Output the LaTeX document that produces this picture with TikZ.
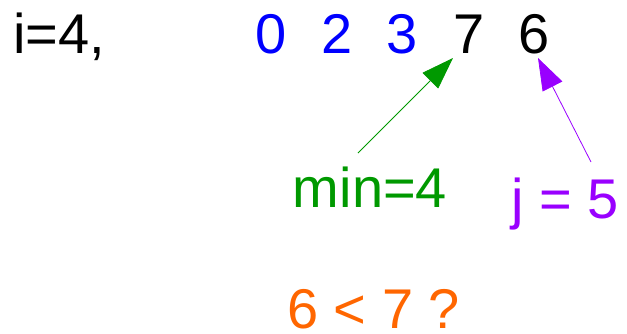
\documentclass[tikz,border=0pt]{standalone}
\usepackage{fontspec}
\setmainfont{Liberation Sans}
\usetikzlibrary{arrows.meta}
\definecolor{myblue}{RGB}{0,0,255}
\definecolor{mygreen}{RGB}{0,153,0}
\definecolor{mypurple}{RGB}{153,0,255}
\definecolor{myorange}{RGB}{255,102,0}
\tikzset{
  lbl/.style={inner sep=0pt, font=\fontsize{56}{60}\selectfont, anchor=base},
  ptr/.style={line width=0.8pt, -{Triangle[length=32pt,width=22pt]}}
}
\begin{document}
\begin{tikzpicture}[x=1pt,y=-1pt]
\useasboundingbox (0,0) rectangle (627,333);
\node[lbl, anchor=base west] (i) at (13,53) {i=4,};
\node[lbl, text=myblue] (d0) at (271.5,53) {0};
\node[lbl, text=myblue] (d1) at (337.5,53) {2};
\node[lbl, text=myblue] (d2) at (402.5,53) {3};
\node[lbl] (d3) at (469,53) {7};
\node[lbl] (d4) at (534,53) {6};
\node[lbl, text=mygreen] (min) at (370,207) {min=4};
\node[lbl, text=mypurple] (j) at (565,218) {j = 5};
\node[lbl, text=myorange] (q) at (373.5,328.5) {6 < 7 ?};
\coordinate (gtail) at (358,153);
\coordinate (gtip) at (453,58);
\coordinate (ptail) at (591,162);
\coordinate (ptip) at (538,58);
\draw[ptr, mygreen] (gtail) -- (gtip);
\draw[ptr, mypurple] (ptail) -- (ptip);
\end{tikzpicture}
\end{document}
